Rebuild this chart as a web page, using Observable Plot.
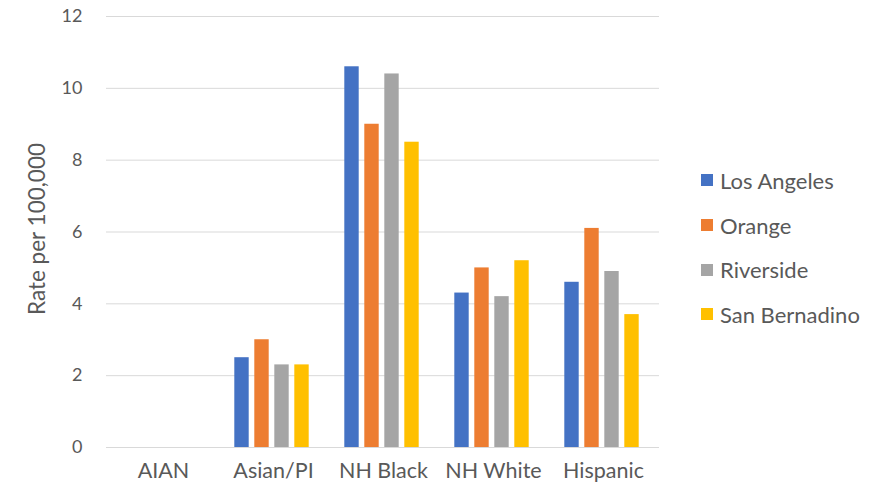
<!DOCTYPE html>
<html><head><meta charset="utf-8">
<script src="https://cdn.jsdelivr.net/npm/d3@7"></script>
<script src="https://cdn.jsdelivr.net/npm/@observablehq/plot@0.6"></script>
<style>
body{margin:0;background:#fff;font-family:Lato,"Open Sans",sans-serif;}
#wrap{position:relative;width:879px;height:492px;}
#legend{position:absolute;left:701px;top:158px;}
.item{display:flex;align-items:center;height:44.7px;font-size:22px;color:#595959;}
.sw{width:12px;height:12px;margin-right:7px;flex:none;}
</style></head><body><div id="wrap"></div>
<script>
const categories = ["AIAN","Asian/PI","NH Black","NH White","Hispanic"];
const series = ["Los Angeles","Orange","Riverside","San Bernadino"];
const colors = ["#4472C4","#ED7D31","#A5A5A5","#FFC000"];
const losAngeles   = [null, 2.5, 10.6, 4.3, 4.6];
const orange       = [null, 3.0,  9.0, 5.0, 6.1];
const riverside    = [null, 2.3, 10.4, 4.2, 4.9];
const sanBernadino = [null, 2.3,  8.5, 5.2, 3.7];
const yTicks = [0,2,4,6,8,10,12];
const yLabel = "Rate per 100,000";

const valuesBySeries = [losAngeles, orange, riverside, sanBernadino];
const rows = [];
series.forEach((s,i)=>categories.forEach((c,j)=>{
  const v = valuesBySeries[i][j];
  if (v != null) rows.push({category:c, series:s, value:v});
}));

const W = 879, H = 492, ML = 106, MR = 220;
const band = (W - ML - MR) / categories.length;
const barW = 15, step = 20;
const inset = (band - barW) / 2;

const marks = [Plot.ruleY(yTicks, {stroke:"#d9d9d9", strokeWidth:1})];
series.forEach((s,i)=>{
  marks.push(Plot.barY(rows.filter(d=>d.series===s), {
    x:"category", y:"value", fill:colors[i],
    insetLeft:inset, insetRight:inset, dx:(i-1.5)*step - 1.5
  }));
});
marks.push(Plot.text([yLabel], {text:d=>d, frameAnchor:"left", textAnchor:"middle", rotate:-90, dx:-69, dy:-3, fontSize:22.5, fill:"#595959"}));

const chart = Plot.plot({
  width:W, height:H,
  marginLeft:ML, marginRight:MR, marginTop:16, marginBottom:45,
  style:{fontSize:"18px", fontFamily:"Lato, 'Open Sans', sans-serif", color:"#595959", background:"#fff"},
  x:{domain:categories, padding:0, tickSize:0, tickPadding:15, label:null, tickFormat:d=>d},
  y:{domain:[0,12], ticks:yTicks, tickSize:0, tickPadding:24, label:null},
  marks
});
chart.querySelectorAll('[aria-label="x-axis tick label"] text, [aria-label="x-axis"] text').forEach(t=>t.setAttribute("font-size","21.5"));
const wrap = document.getElementById("wrap");
wrap.appendChild(chart);

const legend = document.createElement("div");
legend.id = "legend";
series.forEach((s,i)=>{
  const it = document.createElement("div");
  it.className = "item";
  const sw = document.createElement("div");
  sw.className = "sw"; sw.style.background = colors[i];
  const t = document.createElement("span"); t.textContent = s;
  it.appendChild(sw); it.appendChild(t);
  legend.appendChild(it);
});
wrap.appendChild(legend);
</script></body></html>
